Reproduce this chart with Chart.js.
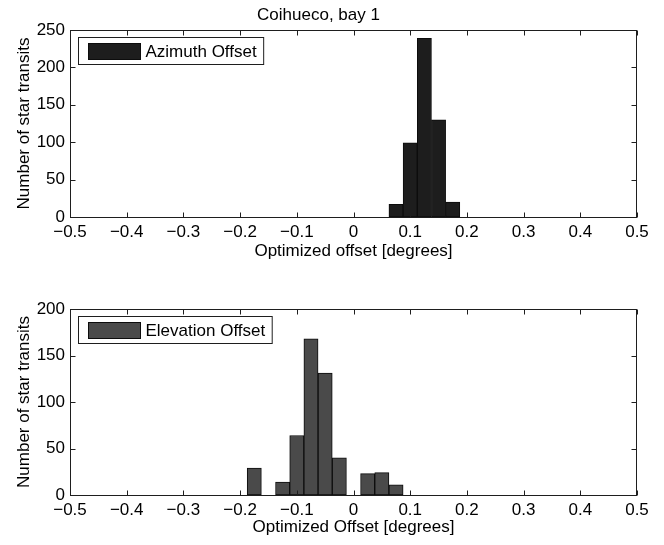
<!DOCTYPE html>
<html>
<head>
<meta charset="utf-8">
<script src="https://cdn.jsdelivr.net/npm/chart.js@4.4.1/dist/chart.umd.min.js"></script>
<style>
  html, body { margin: 0; padding: 0; background: #fff; }
  #wrap { position: relative; width: 664px; height: 545px; overflow: hidden; }
  canvas { position: absolute; left: 0; }
  #azimuth { top: 0; }
  #elevation { top: 272px; }
</style>
</head>
<body>
<div id="wrap">
  <canvas id="azimuth" width="664" height="272"></canvas>
  <canvas id="elevation" width="664" height="273"></canvas>
</div>
<script>
// Histogram data: bin centres (degrees) and counts of star transits
const chartTitle = 'Coihueco, bay 1';

const azimuthBins   = [0.075, 0.100, 0.125, 0.150, 0.175];
const azimuthCounts = [17, 99, 239, 130, 20];

const elevationBins   = [-0.175, -0.125, -0.100, -0.075, -0.050, -0.025, 0.025, 0.050, 0.075];
const elevationCounts = [29, 14, 64, 168, 131, 40, 23, 24, 11];

const xTickValues        = [-0.5, -0.4, -0.3, -0.2, -0.1, 0, 0.1, 0.2, 0.3, 0.4, 0.5];
const azimuthYTickValues = [0, 50, 100, 150, 200, 250];
const elevationYTickValues = [0, 50, 100, 150, 200];

Chart.defaults.font.family = '"Liberation Sans", Arial, Helvetica, sans-serif';
Chart.defaults.font.size = 17;
Chart.defaults.color = '#000';

const fmtX = v => Math.abs(v) < 1e-9 ? '0' : v.toFixed(1).replace('-', '\u2212');

// Box around the axes with inward tick marks on all four sides
const framePlugin = {
  id: 'frame',
  afterDatasetsDraw(chart) {
    const { ctx, chartArea: a, scales: { x, y } } = chart;
    const L = Math.round(a.left) + 0.5, R = Math.round(a.right) - 0.5;
    const T = Math.round(a.top) + 0.5, B = Math.round(a.bottom) + 0.5;
    const len = 5;
    ctx.save();
    ctx.strokeStyle = '#1e1e1e';
    ctx.lineWidth = 1;
    ctx.beginPath();
    x.ticks.forEach(t => {
      const px = Math.round(x.getPixelForValue(t.value)) + 0.5;
      ctx.moveTo(px, B); ctx.lineTo(px, B - len);
      ctx.moveTo(px, T); ctx.lineTo(px, T + len);
    });
    y.ticks.forEach(t => {
      const py = Math.round(y.getPixelForValue(t.value)) + 0.5;
      ctx.moveTo(L, py); ctx.lineTo(L + len, py);
      ctx.moveTo(R, py); ctx.lineTo(R - len, py);
    });
    ctx.stroke();
    ctx.strokeRect(L, T, R - L, B - T);
    ctx.restore();
  }
};

// Boxed legend in the upper-left corner of the axes
const boxLegendPlugin = {
  id: 'boxLegend',
  afterDraw(chart) {
    const { ctx, chartArea: a } = chart;
    const ds = chart.data.datasets[0];
    ctx.save();
    ctx.font = '17px "Liberation Sans", Arial, Helvetica, sans-serif';
    const tw = ctx.measureText(ds.label).width;
    const x0 = Math.round(a.left) + 8.5, y0 = Math.round(a.top) + 7.5;
    const w = 10 + 52 + 5 + tw + 7, h = 27;
    ctx.fillStyle = '#fff';
    ctx.fillRect(x0, y0, w, h);
    ctx.strokeStyle = '#1e1e1e';
    ctx.lineWidth = 1;
    ctx.strokeRect(x0, y0, w, h);
    ctx.fillStyle = ds.backgroundColor;
    ctx.fillRect(x0 + 10, y0 + 6, 52, 16);
    ctx.strokeStyle = ds.borderColor;
    ctx.strokeRect(x0 + 10, y0 + 6, 52, 16);
    ctx.fillStyle = '#000';
    ctx.textBaseline = 'middle';
    ctx.textAlign = 'left';
    ctx.fillText(ds.label, x0 + 10 + 52 + 5, y0 + h / 2 + 1);
    ctx.restore();
  }
};

function makeHistogram(canvasId, opts) {
  return new Chart(document.getElementById(canvasId), {
    type: 'bar',
    data: {
      datasets: [{
        label: opts.label,
        data: opts.bins.map((b, i) => ({ x: b, y: opts.counts[i] })),
        backgroundColor: opts.fill,
        borderColor: '#0c0c0c',
        borderWidth: 1,
        borderSkipped: false,
        categoryPercentage: 1.0,
        barPercentage: 1.0
      }]
    },
    options: {
      responsive: false,
      animation: false,
      events: [],
      layout: { padding: { left: 0, right: 27, top: opts.padTop, bottom: 0 } },
      plugins: {
        legend: { display: false },
        tooltip: { enabled: false },
        title: opts.title ? {
          display: true,
          text: opts.title,
          font: { size: 17, weight: 'normal' },
          color: '#000',
          padding: { top: 5, bottom: 4.6 }
        } : { display: false }
      },
      scales: {
        x: {
          type: 'linear',
          min: -0.5, max: 0.5,
          offset: false,
          grid: { display: false, drawTicks: false, offset: false },
          border: { display: false },
          afterBuildTicks: s => { s.ticks = xTickValues.map(v => ({ value: v })); },
          afterFit: s => { s.height = opts.xHeight; },
          ticks: { padding: 5, maxRotation: 0, autoSkip: false, callback: v => fmtX(v) },
          title: { display: true, text: opts.xTitle, padding: { top: 0, bottom: opts.xTitlePad } }
        },
        y: {
          min: 0, max: opts.yMax,
          grid: { display: false, drawTicks: false },
          border: { display: false },
          afterBuildTicks: s => { s.ticks = opts.yTicks.map(v => ({ value: v })); },
          afterFit: s => { s.width = 70; },
          ticks: { padding: 5, callback: v => String(v) },
          title: { display: true, text: 'Number of star transits', padding: { top: 14, bottom: 0 } }
        }
      }
    },
    plugins: [framePlugin, boxLegendPlugin]
  });
}

makeHistogram('azimuth', {
  label: 'Azimuth Offset',
  bins: azimuthBins,
  counts: azimuthCounts,
  fill: '#1d1d1d',
  yMax: 250,
  yTicks: azimuthYTickValues,
  title: chartTitle,
  padTop: 0,
  xHeight: 55,
  xTitle: 'Optimized offset [degrees]',
  xTitlePad: 10
});

makeHistogram('elevation', {
  label: 'Elevation Offset',
  bins: elevationBins,
  counts: elevationCounts,
  fill: '#4a4a4a',
  yMax: 200,
  yTicks: elevationYTickValues,
  title: null,
  padTop: 37,
  xHeight: 50,
  xTitle: 'Optimized Offset [degrees]',
  xTitlePad: 7
});
</script>
</body>
</html>
